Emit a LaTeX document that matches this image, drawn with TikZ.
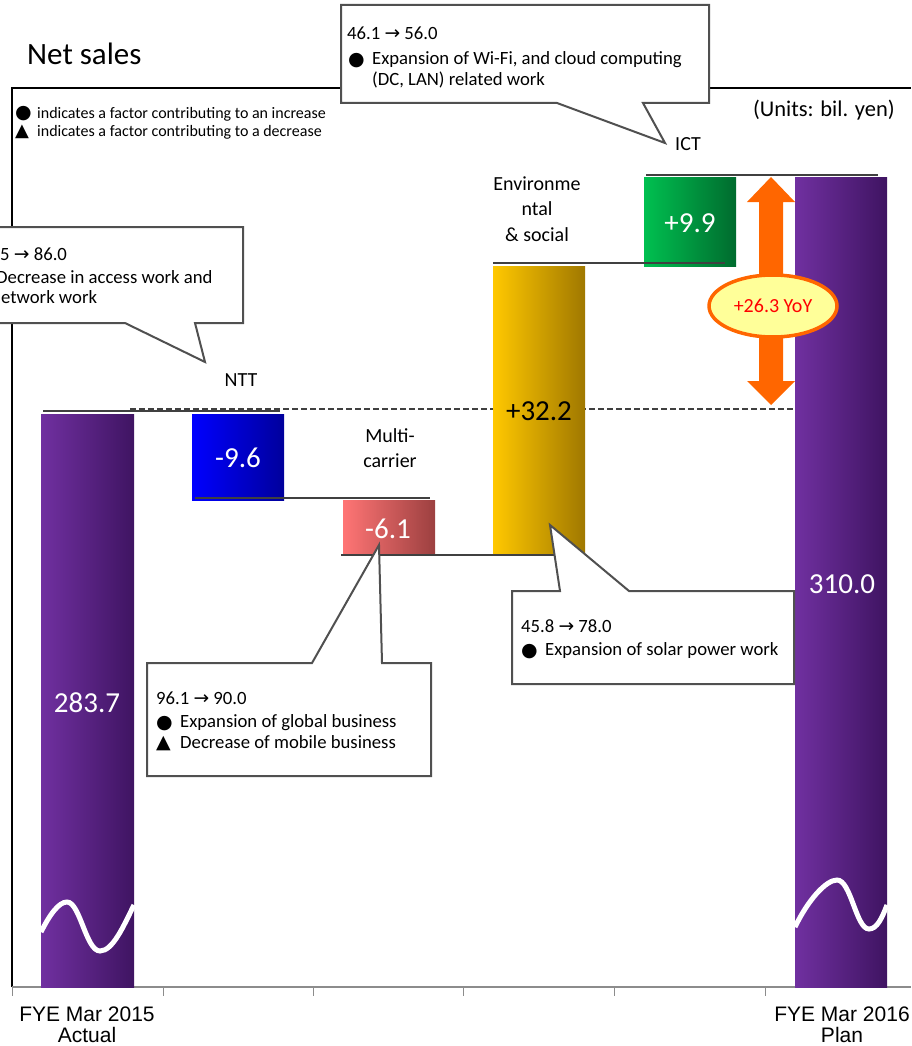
\documentclass[tikz,border=0pt]{standalone}
\usepackage{fontspec}
\setmainfont{Carlito}
\newfontfamily\arialf{Liberation Sans}
\newfontfamily\symf{DejaVu Sans}
\usetikzlibrary{shapes.geometric}
\definecolor{purpL}{HTML}{7030A0}
\definecolor{purpR}{HTML}{3F1462}
\definecolor{blueL}{HTML}{0000FF}
\definecolor{blueR}{HTML}{00009C}
\definecolor{redL}{HTML}{FF7575}
\definecolor{redR}{HTML}{9C4040}
\definecolor{goldL}{HTML}{FFC800}
\definecolor{goldR}{HTML}{A07800}
\definecolor{grnL}{HTML}{00C050}
\definecolor{grnR}{HTML}{006B2E}
\definecolor{calloutc}{HTML}{505050}
\definecolor{linec}{HTML}{404040}
\definecolor{orng}{HTML}{FF6600}
\definecolor{ylw}{HTML}{FFFF99}
\newcommand\mybul{\makebox[24pt][l]{\raisebox{-1pt}{\symf\fontsize{19}{19}\selectfont ●}}}
\newcommand\mytri{\makebox[24pt][l]{\raisebox{-0.5pt}{\symf\fontsize{19}{19}\selectfont ▲}}}
\newcommand\myarr{{\symf →}}
\newcommand\smbul{\makebox[22pt][l]{\raisebox{-0.5pt}{\symf\fontsize{19}{19}\selectfont ●}}}
\newcommand\smtri{\makebox[22pt][l]{\raisebox{-0.5pt}{\symf\fontsize{18}{18}\selectfont ▲}}}
\newcommand\tightlines{\lineskiplimit=-20pt\relax}
\tikzset{
  conn/.style={draw=linec, line width=2pt},
  callout/.style={draw=calloutc, fill=white, line width=2pt, line join=miter},
  ctext/.style={anchor=base west, inner sep=0pt, font=\fontsize{18.7}{22}\selectfont},
  cat/.style={anchor=base, inner sep=0pt, font=\fontsize{20}{23}\selectfont},
  val/.style={anchor=base, inner sep=0pt, text=white, font=\fontsize{29}{34}\selectfont},
  axl/.style={anchor=base, inner sep=0pt, font=\arialf\fontsize{21}{22}\selectfont},
  wave/.style={draw=white, line width=5pt},
}
\begin{document}
\begin{tikzpicture}[x=1pt,y=-1pt]
\useasboundingbox (0,0) rectangle (911,1046);
\clip (0,0) rectangle (911,1046);
% title and legend
\node[anchor=base west, inner sep=0pt, font=\fontsize{31}{36}\selectfont] (title) at (27,65) {Net sales};
\draw[black, line width=1.3pt] (12,987) -- (12,88) -- (911,88);
\node[anchor=base west, inner sep=0pt, align=left, font=\fontsize{16}{18}\selectfont\tightlines] (legend) at (15,136) {\smbul indicates a factor contributing to an increase\\\smtri indicates a factor contributing to a decrease};
\node[anchor=base east, inner sep=0pt, font=\fontsize{22.5}{24}\selectfont] (units) at (895,117) {(Units: bil. yen)};
% axis
\draw[draw=gray!90, line width=2.5pt] (12,987) -- (911,987);
\foreach \tx in {12,163,313,463,614,765} \draw[gray!90, line width=1pt] (\tx,987) -- (\tx,996);
\node[axl] (ax1a) at (87,1021) {FYE Mar 2015};
\node[axl] (ax1b) at (87,1042) {Actual};
\node[axl] (ax2a) at (842,1021) {FYE Mar 2016};
\node[axl] (ax2b) at (842,1042) {Plan};
% dashed reference line
\draw[linec, line width=1.3pt, dash pattern=on 6pt off 3pt] (130,409) -- (795,409);
% bars
\path[left color=purpL, right color=purpR] (41,414) rectangle (134,987);
\path[left color=blueL, right color=blueR] (192,414) rectangle (284,500);
\path[left color=redL, right color=redR] (343,500) rectangle (435,555);
\path[left color=goldL, right color=goldR] (493,266) rectangle (585,555);
\path[left color=grnL, right color=grnR] (644,177) rectangle (736,266);
\path[left color=purpL, right color=purpR] (795,177) rectangle (887,987);
% waves
\draw[wave] (41,932) .. controls (50,914) and (59,902) .. (67,902) .. controls (80,902) and (86,951) .. (100,951) .. controls (113,951) and (124,925) .. (134,905);
\draw[wave] (795,927) .. controls (808,900) and (826,880) .. (837,880) .. controls (851,880) and (856,929) .. (869,929) .. controls (877,929) and (882,918) .. (887,905);
% connector lines
\draw[conn] (43,411) -- (280,411);
\draw[conn] (195,498) -- (430,498);
\draw[conn] (341,555) -- (585,555);
\draw[conn] (493,263) -- (725,263);
\draw[conn] (646,175) -- (878,175);
% values
\node[val] (v0) at (87,712) {283.7};
\node[val] (v1) at (238,467) {-9.6};
\node[val] (v2) at (388,538) {-6.1};
\node[val, text=black] (v3) at (539,420) {+32.2};
\node[val] (v4) at (690,232) {+9.9};
\node[val] (v5) at (842,593) {310.0};
% category labels
\node[cat] (cNTT) at (241,386) {NTT};
\node[cat] (cMC1) at (390,442) {Multi-};
\node[cat] (cMC2) at (390,467) {carrier};
\node[cat] (cEN1) at (537,190) {Environme};
\node[cat] (cEN2) at (537,215) {ntal};
\node[cat] (cEN3) at (537,241) {\& social};
\node[cat] (cICT) at (688,150) {ICT};
% YoY arrow
\fill[orng] (771,177) -- (795,202) -- (783,202) -- (783,381) -- (795,381) -- (771,405) -- (747,381) -- (759,381) -- (759,202) -- (747,202) -- cycle;
\node[ellipse, draw=orng, line width=3.5pt, fill=ylw, minimum width=128pt, minimum height=62pt, inner sep=0pt, text=red, font=\fontsize{20}{22}\selectfont] (yoy) at (773,306) {+26.3 YoY};
% callouts
\draw[callout] (341,5) -- (709,5) -- (709,103) -- (643,103) -- (665,143) -- (557,103) -- (341,103) -- cycle;
\node[ctext] (t1a) at (347,40) {46.1 \myarr\ 56.0};
\node[ctext] (t1b) at (348,65) {\mybul Expansion of Wi-Fi, and cloud computing};
\node[ctext] (t1c) at (372,86) {(DC, LAN) related work};
\draw[callout] (-10,227) -- (243,227) -- (243,323) -- (195,323) -- (205,362) -- (125,323) -- (-10,323) -- cycle;
\node[ctext] (t2a) at (0,260) {5 \myarr\ 86.0};
\node[ctext] (t2b) at (-4,283) {Decrease in access work and};
\node[ctext] (t2c) at (1,303) {etwork work};
\draw[callout] (147,663) -- (312,663) -- (379,545) -- (382,663) -- (431,663) -- (431,776) -- (147,776) -- cycle;
\node[ctext] (t3a) at (156,704) {96.1 \myarr\ 90.0};
\node[ctext] (t3b) at (156,727) {\mybul Expansion of global business};
\node[ctext] (t3c) at (156,748) {\mytri Decrease of mobile business};
\draw[callout] (512,591) -- (560,591) -- (550,525) -- (629,591) -- (794,591) -- (794,684) -- (512,684) -- cycle;
\node[ctext] (t4a) at (521,632) {45.8 \myarr\ 78.0};
\node[ctext] (t4b) at (521,655) {\mybul Expansion of solar power work};
\end{tikzpicture}
\end{document}
